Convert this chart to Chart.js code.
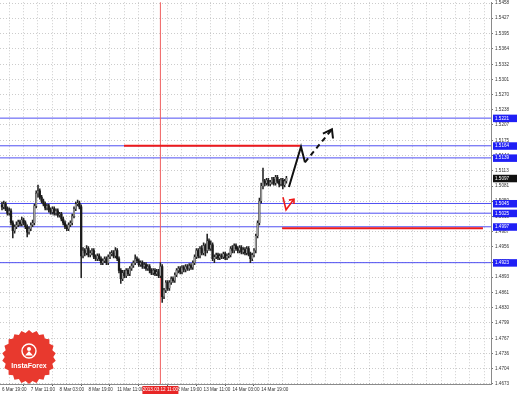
<!DOCTYPE html>
<html><head><meta charset="utf-8">
<script src="https://cdn.jsdelivr.net/npm/chart.js@4.4.0/dist/chart.umd.min.js"></script>
<style>html,body{margin:0;padding:0;background:#fff;overflow:hidden}#wrap{width:518px;height:395px;position:relative}</style>
</head><body><div id="wrap"><canvas id="c" width="518" height="395"></canvas></div>
<script>
// ---- data ----
const timeLabels = ["6 Mar 19:00","7 Mar 11:00","8 Mar 03:00","8 Mar 19:00","11 Mar 11:00","12 Mar 03:00","12 Mar 19:00","13 Mar 11:00","14 Mar 03:00","14 Mar 19:00"];
const opens = [1.5042,1.5038,1.5044,1.5034,1.5025,1.5030,1.5005,1.4989,1.4997,1.5001,
1.5007,1.5003,1.5011,1.5005,1.4997,1.4986,1.4993,1.5001,1.5005,1.5040,
1.5066,1.5071,1.5058,1.5050,1.5044,1.5036,1.5040,1.5032,1.5027,1.5034,
1.5025,1.5030,1.5021,1.5023,1.5013,1.5005,1.4997,1.4993,1.5001,1.5005,
1.5019,1.5034,1.5044,1.5046,1.5038,1.4937,1.4948,1.4943,1.4952,1.4939,
1.4943,1.4948,1.4935,1.4931,1.4937,1.4931,1.4923,1.4927,1.4931,1.4923,
1.4935,1.4941,1.4943,1.4937,1.4948,1.4931,1.4907,1.4890,1.4902,1.4896,
1.4907,1.4900,1.4911,1.4917,1.4923,1.4931,1.4927,1.4919,1.4923,1.4915,
1.4919,1.4911,1.4915,1.4907,1.4902,1.4907,1.4900,1.4904,1.4896,1.4915,
1.4853,1.4866,1.4882,1.4870,1.4882,1.4890,1.4886,1.4898,1.4907,1.4911,
1.4904,1.4913,1.4909,1.4915,1.4911,1.4917,1.4913,1.4923,1.4935,1.4948,
1.4937,1.4952,1.4943,1.4958,1.4948,1.4968,1.4952,1.4960,1.4931,1.4935,
1.4939,1.4933,1.4937,1.4935,1.4941,1.4933,1.4937,1.4939,1.4952,1.4948,
1.4958,1.4952,1.4948,1.4954,1.4945,1.4950,1.4943,1.4952,1.4941,1.4931,
1.4939,1.4948,1.4978,1.5005,1.5050,1.5081,1.5091,1.5087,1.5093,1.5085,
1.5089,1.5095,1.5087,1.5099,1.5091,1.5085,1.5093,1.5083,1.5091];
const highs = [1.5048,1.5050,1.5048,1.5038,1.5036,1.5034,1.5009,1.5001,1.5007,1.5011,
1.5011,1.5017,1.5015,1.5009,1.5001,1.4997,1.5005,1.5011,1.5044,1.5071,
1.5083,1.5075,1.5062,1.5054,1.5048,1.5044,1.5044,1.5036,1.5038,1.5038,
1.5034,1.5034,1.5027,1.5027,1.5017,1.5009,1.5001,1.5005,1.5009,1.5023,
1.5038,1.5048,1.5052,1.5050,1.5042,1.4954,1.4952,1.4958,1.4956,1.4948,
1.4952,1.4952,1.4939,1.4941,1.4941,1.4935,1.4931,1.4935,1.4935,1.4939,
1.4945,1.4948,1.4948,1.4954,1.4952,1.4935,1.4911,1.4907,1.4907,1.4911,
1.4911,1.4915,1.4921,1.4927,1.4939,1.4935,1.4931,1.4927,1.4927,1.4923,
1.4923,1.4919,1.4919,1.4911,1.4911,1.4911,1.4909,1.4909,1.4923,1.4919,
1.4870,1.4886,1.4886,1.4886,1.4894,1.4894,1.4902,1.4911,1.4915,1.4915,
1.4917,1.4917,1.4919,1.4919,1.4921,1.4921,1.4927,1.4939,1.4952,1.4952,
1.4956,1.4958,1.4964,1.4962,1.4982,1.4972,1.4968,1.4964,1.4939,1.4943,
1.4943,1.4941,1.4941,1.4945,1.4945,1.4941,1.4943,1.4956,1.4958,1.4962,
1.4962,1.4956,1.4958,1.4958,1.4954,1.4954,1.4956,1.4956,1.4945,1.4943,
1.4952,1.4982,1.5009,1.5056,1.5087,1.5118,1.5095,1.5097,1.5097,1.5093,
1.5099,1.5099,1.5103,1.5103,1.5095,1.5097,1.5097,1.5095,1.5101];
const lows = [1.5032,1.5034,1.5030,1.5021,1.5021,1.5001,1.4974,1.4984,1.4993,1.4997,
1.4999,1.4999,1.5001,1.4993,1.4976,1.4982,1.4989,1.4997,1.5001,1.5036,
1.5058,1.5054,1.5046,1.5040,1.5032,1.5032,1.5027,1.5023,1.5023,1.5021,
1.5021,1.5017,1.5017,1.5009,1.5001,1.4993,1.4989,1.4989,1.4997,1.5001,
1.5015,1.5030,1.5040,1.5034,1.4892,1.4933,1.4937,1.4939,1.4935,1.4935,
1.4939,1.4931,1.4927,1.4927,1.4927,1.4919,1.4919,1.4923,1.4919,1.4919,
1.4931,1.4937,1.4933,1.4933,1.4927,1.4902,1.4880,1.4886,1.4892,1.4892,
1.4896,1.4896,1.4907,1.4913,1.4919,1.4923,1.4915,1.4915,1.4911,1.4911,
1.4907,1.4907,1.4902,1.4898,1.4898,1.4896,1.4896,1.4892,1.4892,1.4841,
1.4849,1.4861,1.4866,1.4866,1.4878,1.4882,1.4882,1.4894,1.4902,1.4900,
1.4900,1.4904,1.4904,1.4907,1.4907,1.4909,1.4909,1.4919,1.4931,1.4933,
1.4933,1.4939,1.4939,1.4937,1.4943,1.4948,1.4948,1.4927,1.4923,1.4931,
1.4929,1.4929,1.4931,1.4931,1.4929,1.4929,1.4933,1.4935,1.4943,1.4943,
1.4948,1.4943,1.4943,1.4941,1.4941,1.4939,1.4939,1.4937,1.4923,1.4927,
1.4935,1.4943,1.4974,1.5001,1.5046,1.5075,1.5081,1.5083,1.5081,1.5081,
1.5085,1.5083,1.5083,1.5087,1.5079,1.5081,1.5075,1.5079,1.5087];
const closes = [1.5038,1.5044,1.5034,1.5025,1.5030,1.5005,1.4989,1.4997,1.5001,1.5007,
1.5003,1.5011,1.5005,1.4997,1.4986,1.4993,1.5001,1.5005,1.5040,1.5066,
1.5071,1.5058,1.5050,1.5044,1.5036,1.5040,1.5032,1.5027,1.5034,1.5025,
1.5030,1.5021,1.5023,1.5013,1.5005,1.4997,1.4993,1.5001,1.5005,1.5019,
1.5034,1.5044,1.5046,1.5038,1.4937,1.4948,1.4943,1.4952,1.4939,1.4943,
1.4948,1.4935,1.4931,1.4937,1.4931,1.4923,1.4927,1.4931,1.4923,1.4935,
1.4941,1.4943,1.4937,1.4948,1.4931,1.4907,1.4890,1.4902,1.4896,1.4907,
1.4900,1.4911,1.4917,1.4923,1.4931,1.4927,1.4919,1.4923,1.4915,1.4919,
1.4911,1.4915,1.4907,1.4902,1.4907,1.4900,1.4904,1.4896,1.4915,1.4853,
1.4866,1.4882,1.4870,1.4882,1.4890,1.4886,1.4898,1.4907,1.4911,1.4904,
1.4913,1.4909,1.4915,1.4911,1.4917,1.4913,1.4923,1.4935,1.4948,1.4937,
1.4952,1.4943,1.4958,1.4948,1.4968,1.4952,1.4960,1.4931,1.4935,1.4939,
1.4933,1.4937,1.4935,1.4941,1.4933,1.4937,1.4939,1.4952,1.4948,1.4958,
1.4952,1.4948,1.4954,1.4945,1.4950,1.4943,1.4952,1.4941,1.4931,1.4939,
1.4948,1.4978,1.5005,1.5050,1.5081,1.5091,1.5087,1.5093,1.5085,1.5089,
1.5095,1.5087,1.5099,1.5091,1.5085,1.5093,1.5083,1.5091,1.5097];
const priceTicks = [1.5458,1.5427,1.5395,1.5364,1.5332,1.5301,1.5270,1.5238,1.5207,1.5175,1.5144,1.5113,1.5081,1.5050,1.5018,1.4987,1.4956,1.4924,1.4893,1.4861,1.4830,1.4799,1.4767,1.4736,1.4704,1.4673];
const levelPrices = [1.5221,1.5164,1.5139,1.5045,1.5025,1.4997,1.4923];
const currentPrice = 1.5097;
const markerBar = 88;
const markerLabel = "2013.03.12 11:00";
const targetTop = [[67.8,1.5164],[165.6,1.5164]];
const targetBottom = [[155.6,1.4994],[267.2,1.4994]];
const forecastSolid = [[159.4,1.5079],[166.1,1.5162],[168.3,1.5130]];
const forecastDashed = [[168.3,1.5130],[183.3,1.5198]];
const forecastHead = [[178.3,1.5189],[183.3,1.5198],[183.9,1.5179]];
const altPath = [[156.1,1.5058],[157.8,1.5032],[162.2,1.5054]];
const altHead = [[159.4,1.5052],[162.2,1.5054],[162.2,1.5044]];

// ---- chart ----
const FONT = 'Liberation Sans';
const barsPerLabel = 16, barsPerGrid = 8;
const xMin = -1.111, xMax = 271.67;
const yMin = 1.46728, yMax = 1.5460;
const idx = opens.map((_, i) => i);
const pts = a => a.map(p => ({x: p[0], y: p[1]}));
const lineDs = (data, color, width, order, dash) => ({type:'line', data: pts(data), borderColor: color, borderWidth: width, pointRadius: 0, borderDash: dash || [], order, tension: 0});

const datasets = [];
levelPrices.forEach(v => datasets.push(lineDs([[xMin-2, v],[xMax+2, v]], '#4f4ff2', 1, 10)));
datasets.push(lineDs([[markerBar, yMin-0.01],[markerBar, yMax+0.01]], '#f06060', 1, 9));
datasets.push({type:'bar', data: idx.map(i => ({x:i, y:[lows[i], highs[i]]})), backgroundColor:'#222', barThickness:0.9, grouped:false, order:6});
datasets.push({type:'bar', data: idx.map(i => ({x:i, y:[opens[i], closes[i]]})), backgroundColor: idx.map(i => closes[i] >= opens[i] ? '#a0a0a0' : '#1a1a1a'), borderColor: '#333', borderWidth: idx.map(i => closes[i] >= opens[i] ? 0.4 : 0), barThickness:1.6, grouped:false, minBarLength:1, order:5});
datasets.push(lineDs(targetTop, '#ee1a1a', 2, 3));
datasets.push(lineDs(targetBottom, '#ee1a1a', 2, 3));
datasets.push(lineDs(forecastSolid, '#111', 2, 1));
datasets.push(lineDs(forecastDashed, '#111', 2, 1, [5,4]));
datasets.push(lineDs(forecastHead, '#111', 2, 1));
datasets.push(lineDs(altPath, '#ee1a1a', 1.6, 1));
datasets.push(lineDs(altHead, '#ee1a1a', 1.6, 1));

const gridBars = [];
for (let v = 0; v <= xMax; v += barsPerGrid) gridBars.push(v);

const overlay = {
  id: 'overlay',
  afterDraw(chart) {
    const ctx = chart.ctx, xs = chart.scales.x, ys = chart.scales.y, ca = chart.chartArea;
    ctx.save();
    ctx.font = '4.6px "' + FONT + '"';
    ctx.textBaseline = 'middle';
    const box = (v, fill) => {
      const py = ys.getPixelForValue(v);
      ctx.fillStyle = fill;
      ctx.fillRect(ca.right + 2, py - 3.5, 24, 7.5);
      ctx.fillStyle = '#fff';
      ctx.textAlign = 'left';
      ctx.fillText(v.toFixed(4), ca.right + 4, py + 0.3);
    };
    levelPrices.forEach(v => box(v, '#1f1ff5'));
    box(currentPrice, '#111');
    const px = xs.getPixelForValue(markerBar);
    ctx.fillStyle = '#e82626';
    ctx.fillRect(px - 18, ca.bottom + 2, 36, 8);
    ctx.fillStyle = '#fff';
    ctx.textAlign = 'center';
    ctx.fillText(markerLabel, px, ca.bottom + 6.2);
    const cx = 29, cy = 357, R = 27, r = 24.3, n = 22;
    ctx.beginPath();
    for (let k = 0; k < 2 * n; k++) {
      const a = k * Math.PI / n - Math.PI / 2, rr = k % 2 ? r : R;
      ctx.lineTo(cx + rr * Math.cos(a), cy + rr * Math.sin(a));
    }
    ctx.closePath();
    ctx.fillStyle = '#e8392e';
    ctx.fill();
    ctx.beginPath(); ctx.arc(cx, cy - 6, 7, 0, Math.PI * 2);
    ctx.strokeStyle = '#fff'; ctx.lineWidth = 1.4; ctx.stroke();
    ctx.beginPath(); ctx.arc(cx, cy - 8, 2, 0, Math.PI * 2); ctx.fillStyle = '#fff'; ctx.fill();
    ctx.beginPath(); ctx.moveTo(cx - 4, cy - 1.5); ctx.lineTo(cx, cy - 6); ctx.lineTo(cx + 4, cy - 1.5); ctx.closePath(); ctx.fill();
    ctx.font = 'bold 7px "' + FONT + '"';
    ctx.textAlign = 'center';
    ctx.fillText('InstaForex', cx, cy + 9);
    ctx.restore();
  }
};

new Chart(document.getElementById('c'), {
  type: 'bar',
  data: { datasets },
  options: {
    responsive: false, animation: false, maintainAspectRatio: false,
    layout: { padding: 0 },
    plugins: { legend: { display: false }, tooltip: { enabled: false } },
    scales: {
      x: {
        type: 'linear', min: xMin, max: xMax, offset: false,
        afterBuildTicks: s => { s.ticks = gridBars.map(v => ({ value: v })); },
        afterFit: s => { s.height = 11; },
        ticks: { autoSkip: false, maxRotation: 0, minRotation: 0, align: 'start', padding: 1, color: '#333',
          font: { size: 4.6, family: FONT, lineHeight: 1 },
          callback: v => (v % barsPerLabel === 0 && v / barsPerLabel < timeLabels.length) ? timeLabels[v / barsPerLabel] : '' },
        grid: { color: 'rgba(0,0,0,0.2)', lineWidth: 1, tickLength: 2,
          tickColor: c => (c.tick && c.tick.value % barsPerLabel === 0 && c.tick.value / barsPerLabel < timeLabels.length) ? '#555' : 'rgba(0,0,0,0)' },
        border: { display: true, color: '#8a8a8a', width: 1, dash: [1, 2] }
      },
      y: {
        position: 'right', min: yMin, max: yMax,
        afterBuildTicks: s => { s.ticks = priceTicks.map(v => ({ value: v })); },
        afterFit: s => { s.width = 27; },
        ticks: { padding: 2, color: '#333', font: { size: 4.6, family: FONT, lineHeight: 0.1 }, callback: v => v.toFixed(4) },
        grid: { color: 'rgba(0,0,0,0.2)', lineWidth: 1, tickLength: 2, tickColor: '#777' },
        border: { display: true, color: '#8a8a8a', width: 1, dash: [1, 2] }
      }
    }
  },
  plugins: [overlay]
});
</script></body></html>
